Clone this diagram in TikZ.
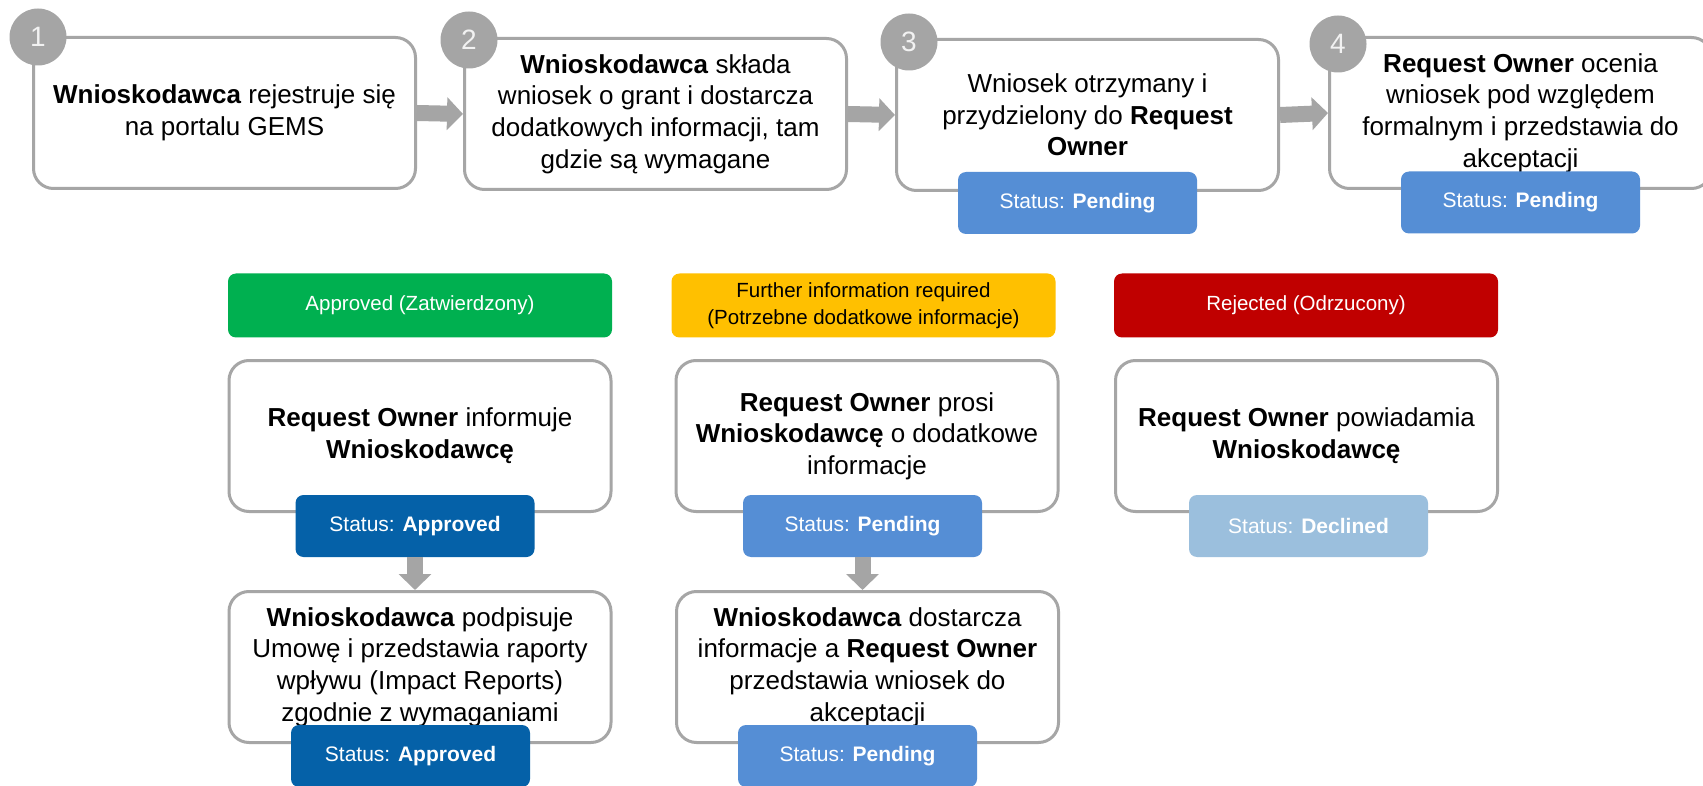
\documentclass[tikz,border=0pt]{standalone}
\usepackage{fontspec}
\setmainfont{Liberation Sans}
\usetikzlibrary{arrows.meta}
\definecolor{bordergray}{HTML}{A6A6A6}
\definecolor{circgray}{HTML}{A5A5A5}
\definecolor{arrowgray}{HTML}{A5A5A5}
\definecolor{numwhite}{HTML}{F2F2F2}
\definecolor{pendblue}{HTML}{558ED5}
\definecolor{apprblue}{HTML}{0561A8}
\definecolor{declblue}{HTML}{9BBFDD}
\definecolor{hgreen}{HTML}{00B050}
\definecolor{hyellow}{HTML}{FFC000}
\definecolor{hred}{HTML}{C00000}
\begin{document}
\begin{tikzpicture}[x=1pt,y=-1pt,
  stepbox/.style={draw=bordergray, line width=3pt, fill=white, rounded corners=20pt,
    minimum width=382pt, minimum height=151pt, align=center,
    font=\fontsize{26}{31.7}\selectfont, inner sep=0pt},
  badge/.style={fill=#1, rounded corners=8pt, minimum width=239pt, minimum height=62pt,
    text=white, font=\fontsize{21}{25}\selectfont, inner sep=0pt},
  header/.style={fill=#1, rounded corners=8pt, minimum width=384pt, minimum height=64pt,
    align=center, font=\fontsize{20.5}{27}\selectfont, inner sep=0pt},
  numcirc/.style={circle, fill=circgray, minimum size=57pt, inner sep=0pt,
    text=numwhite, font=\fontsize{28}{28}\selectfont},
  blockarrow/.style={draw=arrowgray, line width=16pt, -{Triangle[width=32pt,length=16pt]}},
]
\clip (0,0) rectangle (1703,786);
\fill[white] (0,0) rectangle (1703,786);

% top row boxes
\node[stepbox] (b1) at (224.5,113) {\textbf{Wnioskodawca} rejestruje się\\na portalu GEMS};
\node[stepbox] (b2) at (655.5,114) {\textbf{Wnioskodawca} składa\\wniosek o grant i dostarcza\\dodatkowych informacji, tam\\gdzie są wymagane};
\node[stepbox] (b3) at (1087.5,115) {Wniosek otrzymany i\\przydzielony do \textbf{Request}\\\textbf{Owner}};
\node[stepbox] (b4) at (1520.5,113) {\textbf{Request Owner} ocenia\\wniosek pod względem\\formalnym i przedstawia do\\akceptacji};

\node[badge=pendblue] (s3) at (1077.5,203) {Status: \textbf{Pending}};
\node[badge=pendblue] (s4) at (1520.5,202.5) {Status: \textbf{Pending}};

\node[numcirc] (n1) at (38,37) {1};
\node[numcirc] (n2) at (469,40) {2};
\node[numcirc] (n3) at (909,42) {3};
\node[numcirc] (n4) at (1338,44) {4};

\draw[blockarrow] (b1.east) -- (b2.west);
\draw[blockarrow] (b2.east) -- (b3.west);
\draw[blockarrow] (b3.east) -- (b4.west);

% headers
\node[header=hgreen, text=white] (hA) at (420,305.5) {Approved (Zatwierdzony)};
\node[header=hyellow, text=black] (hF) at (863.5,305.5) {Further information required\\(Potrzebne dodatkowe informacje)};
\node[header=hred, text=white] (hR) at (1306,305.5) {Rejected (Odrzucony)};

% second row
\node[stepbox] (a1) at (420,436) {\textbf{Request Owner} informuje\\\textbf{Wnioskodawcę}};
\node[stepbox] (f1) at (867,436) {\textbf{Request Owner} prosi\\\textbf{Wnioskodawcę} o dodatkowe\\informacje};
\node[stepbox] (r1) at (1306.5,436) {\textbf{Request Owner} powiadamia\\\textbf{Wnioskodawcę}};

\node[badge=apprblue] (sa1) at (415,526) {Status: \textbf{Approved}};
\node[badge=pendblue] (sf1) at (862.5,526) {Status: \textbf{Pending}};
\node[badge=declblue] (sr1) at (1308.5,526) {Status: \textbf{Declined}};

% third row
\node[stepbox] (a2) at (420,667) {\textbf{Wnioskodawca} podpisuje\\Umowę i przedstawia raporty\\wpływu (Impact Reports)\\zgodnie z wymaganiami};
\node[stepbox] (f2) at (867.5,667) {\textbf{Wnioskodawca} dostarcza\\informacje a \textbf{Request Owner}\\przedstawia wniosek do\\akceptacji};

\node[badge=apprblue] (sa2) at (410.5,756) {Status: \textbf{Approved}};
\node[badge=pendblue] (sf2) at (857.5,756) {Status: \textbf{Pending}};

\draw[blockarrow] (sa1.south) -- (sa1.south |- a2.north);
\draw[blockarrow] (sf1.south) -- (sf1.south |- f2.north);
\end{tikzpicture}
\end{document}
